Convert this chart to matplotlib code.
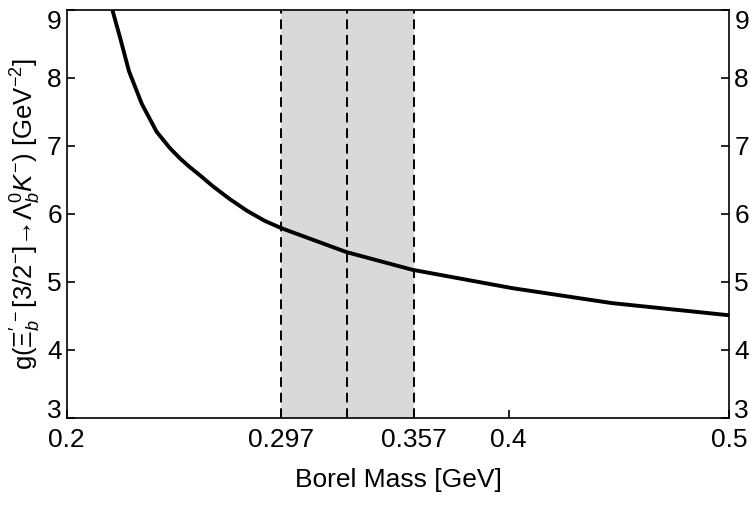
import matplotlib
matplotlib.use("Agg")
import matplotlib.pyplot as plt

plt.rcParams['font.family'] = ['Liberation Sans', 'DejaVu Sans']
plt.rcParams['mathtext.fontset'] = 'custom'
plt.rcParams['mathtext.rm'] = 'Liberation Sans'
plt.rcParams['mathtext.it'] = 'Liberation Sans:italic'
plt.rcParams['mathtext.bf'] = 'Liberation Sans:bold'

# Data
borel_mass = [0.2207, 0.2242, 0.2282, 0.2340, 0.2407, 0.2467, 0.2512, 0.2557,
              0.2603, 0.2661, 0.2738, 0.2815, 0.2896, 0.2973, 0.3266, 0.3564,
              0.4016, 0.4467, 0.5000]
coupling = [9.00, 8.59, 8.10, 7.62, 7.21, 6.97, 6.82, 6.69,
            6.57, 6.41, 6.22, 6.05, 5.90, 5.79, 5.44, 5.18,
            4.91, 4.69, 4.51]
window = [0.297, 0.357]
window_mid = 0.327
xticks = [0.2, 0.297, 0.357, 0.4, 0.5]
xticklabels = ['0.2', '0.297', '0.357', '0.4', '0.5']
yticks = [3, 4, 5, 6, 7, 8, 9]

fig = plt.figure(figsize=(7.5, 5.05), dpi=100)
ax = fig.add_axes([0.0889, 0.1723, 0.8837, 0.8079])

ax.axvspan(window[0], window[1], color='#d9d9d9', lw=0, zorder=0)
for xv in [window[0], window_mid, window[1]]:
    ax.axvline(xv, color='black', lw=1.4, ls=(0, (5, 3)), zorder=1)
ax.plot(borel_mass, coupling, color='black', lw=2.8, zorder=2)

ax.set_xlim(0.2, 0.5)
ax.set_ylim(3, 9)
ax.set_xticks(xticks)
ax.set_xticklabels(xticklabels)
ax.set_yticks(yticks)
ax.tick_params(axis='both', direction='in', length=6, width=1.2, labelsize=19)
ax.tick_params(axis='x', top=False, pad=7)
ax.tick_params(axis='y', right=True, labelright=True, pad=3.5)
for s in ax.spines.values():
    s.set_linewidth(1.2)

ax.set_xlabel('Borel Mass [GeV]', fontsize=19, labelpad=12)
ax.set_ylabel(r"g($\Xi_b^{\prime\,-}$[3/2$^{-}$]→$\Lambda_b^0K^{-}$) [GeV$^{-2}$]",
              fontsize=18.5, labelpad=3)

# keep the end labels inside the figure like the reference
fig.canvas.draw()
for tk in ax.yaxis.get_major_ticks():
    for t in (tk.label1, tk.label2):
        if t.get_text() == '9':
            t.set_verticalalignment('top')
        elif t.get_text() == '3':
            t.set_verticalalignment('baseline')

fig.savefig('out.png', dpi=100)
